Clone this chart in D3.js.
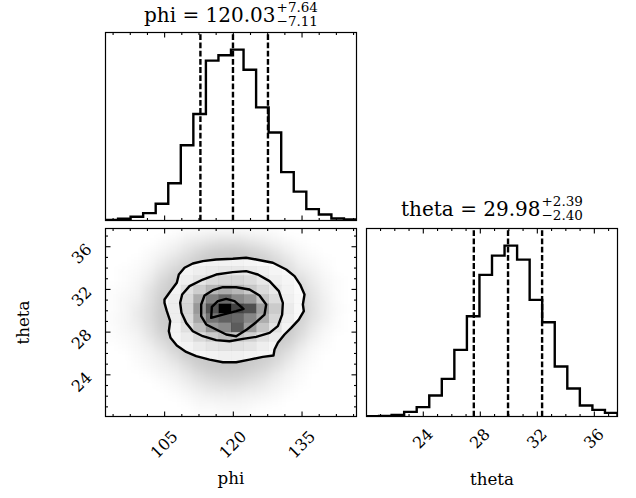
<!DOCTYPE html>
<html><head><meta charset="utf-8">
<script src="https://cdn.jsdelivr.net/npm/d3@7/dist/d3.min.js"></script>
<style>
html,body{margin:0;padding:0;background:#fff;}
svg{display:block;font-family:"DejaVu Serif",serif;}
</style></head><body>
<svg id="chart" width="636" height="498"></svg>
<script>
// ---------------- data ----------------
const phiRange = [92.2, 147.0];
const thetaRange = [20.05, 37.66];
// 1-D histograms, 20 bins each across the ranges above
const phiCounts = [2, 5, 11, 22, 50, 111, 224, 317, 476, 492, 509, 449, 337, 262, 144, 86, 34, 18, 6, 3];
const thetaCounts = [1, 2, 5, 14, 28, 63, 113, 200, 301, 425, 483, 513, 471, 350, 283, 150, 84, 33, 20, 11];
const phiQuantiles = [112.92, 120.03, 127.67];
const thetaQuantiles = [27.58, 29.98, 32.37];
const phiTicks = [105, 120, 135];
const phiMinorTicks = [93.75, 97.5, 101.25, 108.75, 112.5, 116.25, 123.75, 127.5, 131.25, 138.75, 142.5, 146.25];
const thetaTicks = [24, 28, 32, 36];
const thetaMinorTicks = [21, 22, 23, 25, 26, 27, 29, 30, 31, 33, 34, 35, 37];
const phiTitle = ["phi = ", "120.03", "+7.64", "\u22127.11"];
const thetaTitle = ["theta = ", "29.98", "+2.39", "\u22122.40"];
const axisLabels = ["phi", "theta"];

// 2-D binned density (relative counts) for phi bins 4..15 (cols), theta bins 16..5 (rows, top to bottom)
const densityColStart = 4;
const densityRowTop = 16;
const densityCounts = [
  [0, 14, 17, 20, 22, 22, 22, 20, 17, 14, 0, 0],
  [14, 17, 22, 26, 28, 30, 30, 28, 24, 20, 17, 0],
  [14, 20, 26, 32, 38, 40, 40, 37, 30, 24, 20, 14],
  [17, 22, 34, 44, 53, 57, 53, 46, 38, 30, 22, 14],
  [17, 26, 38, 57, 70, 77, 68, 63, 48, 37, 24, 17],
  [17, 26, 40, 63, 82, 100, 86, 83, 62, 45, 28, 17],
  [17, 26, 38, 59, 74, 79, 77, 69, 57, 40, 26, 17],
  [14, 22, 34, 50, 63, 68, 80, 62, 48, 34, 22, 14],
  [14, 20, 28, 38, 45, 50, 48, 43, 35, 28, 20, 14],
  [10, 17, 22, 28, 32, 34, 34, 32, 26, 20, 17, 10],
  [0, 14, 17, 20, 22, 24, 24, 22, 20, 17, 14, 0],
  [0, 0, 14, 14, 17, 17, 17, 17, 14, 14, 0, 0]
];
// scatter-sample shading (darkness %, 20x20 bins, theta rows top to bottom)
const sampleShade = [
  [0,0,0,0,0,1,3,4,5,5,5,4,3,2,0,0,0,0,0,0],
  [0,0,0,0,2,4,7,9,11,12,12,10,8,5,3,1,0,0,0,0],
  [0,0,0,2,4,7,11,15,18,19,19,17,14,10,6,3,1,0,0,0],
  [0,0,1,3,7,11,15,19,20,20,20,20,18,14,10,5,3,1,0,0],
  [0,1,2,5,10,15,19,20,20,20,20,20,20,18,12,8,5,2,0,0],
  [0,1,3,7,14,19,20,20,20,20,20,20,20,20,16,12,7,3,1,0],
  [1,2,4,10,16,20,20,20,20,20,20,20,20,20,19,15,9,4,1,0],
  [1,3,5,11,18,20,20,20,20,20,20,20,20,20,20,17,10,5,1,0],
  [1,3,7,12,19,20,20,20,20,20,20,20,20,20,20,18,11,5,2,0],
  [2,3,7,12,19,20,20,20,20,20,20,20,20,20,20,17,10,5,1,0],
  [1,3,6,11,18,20,20,20,20,20,20,20,20,20,20,15,8,3,1,0],
  [1,2,4,9,15,19,20,20,20,20,20,20,20,20,19,12,6,2,0,0],
  [0,1,3,6,11,16,20,20,20,20,20,20,20,19,15,8,3,1,0,0],
  [0,0,2,4,7,12,18,20,20,20,20,20,19,16,10,5,2,0,0,0],
  [0,0,1,3,5,8,13,18,20,20,20,19,16,12,7,3,1,0,0,0],
  [0,0,0,1,3,5,9,13,16,17,17,15,12,8,4,2,0,0,0,0],
  [0,0,0,0,1,3,6,9,11,12,12,10,8,5,3,1,0,0,0,0],
  [0,0,0,0,0,1,3,5,7,7,7,6,5,3,1,0,0,0,0,0],
  [0,0,0,0,0,0,1,3,3,4,4,3,2,1,0,0,0,0,0,0],
  [0,0,0,0,0,0,0,1,1,2,2,1,0,0,0,0,0,0,0,0]
];
// contour lines [phi, theta]
const contour1 = [[105.08,31.01],[106.54,31.88],[107.77,32.57],[108.21,33.35],[109.45,33.98],[111.27,34.38],[113.45,34.60],[116.36,34.76],[120.0,34.82],[122.91,34.92],[125.1,34.76],[128.74,34.45],[131.65,33.82],[133.47,33.2],[134.7,32.41],[135.65,31.48],[135.29,30.54],[135.5,29.92],[134.41,29.13],[132.74,28.35],[131.28,27.73],[129.83,26.95],[129.1,26.32],[128.88,25.76],[126.55,25.63],[123.64,25.38],[120.73,25.13],[117.82,25.13],[114.91,25.38],[112.0,25.7],[109.81,26.1],[107.77,26.7],[106.39,27.42],[106.03,28.04],[106.32,28.98],[105.59,29.92],[105.08,30.7]];
const contour2 = [[108.5,30.7],[108.94,31.48],[110.54,32.26],[113.45,32.88],[116.36,33.35],[120.0,33.57],[122.91,33.67],[125.46,33.35],[128.01,32.73],[130.05,31.79],[130.92,30.7],[130.77,29.6],[129.83,28.51],[128.01,27.88],[125.1,27.51],[122.19,27.32],[119.27,27.1],[116.36,27.2],[113.45,27.57],[111.27,28.04],[109.81,28.82],[108.79,29.76]];
const contour3 = [[113.09,30.54],[113.82,31.38],[115.64,31.88],[117.82,32.16],[120.73,32.16],[123.64,31.95],[125.82,31.38],[127.28,30.54],[126.92,29.6],[125.1,28.88],[123.06,28.2],[120.73,27.57],[118.55,27.73],[116.36,28.2],[114.18,28.67],[113.09,29.45]];
const contour4 = [[115.27,29.29],[115.42,30.32],[116.73,30.85],[118.55,31.07],[120.37,30.85],[122.33,30.13],[120.73,29.92],[117.82,29.6]];

// ---------------- layout ----------------
const svg = d3.select("#chart");
const P1 = {x: 105.5, y: 32.5, w: 251, h: 188};
const P2 = {x: 105.5, y: 228.5, w: 251, h: 188};
const P3 = {x: 366.5, y: 228.5, w: 251, h: 188};
const nb = 20;
const LW = 2.4;

const xPhi = d3.scaleLinear(phiRange, [P1.x, P1.x + P1.w]);
const yTheta = d3.scaleLinear(thetaRange, [P2.y + P2.h, P2.y]);
const xTheta = d3.scaleLinear(thetaRange, [P3.x, P3.x + P3.w]);
const yH1 = d3.scaleLinear([0, 1.1 * d3.max(phiCounts)], [P1.y + P1.h, P1.y]);
const yH3 = d3.scaleLinear([0, 1.1 * d3.max(thetaCounts)], [P3.y + P3.h, P3.y]);

const phiEdge = k => phiRange[0] + k * (phiRange[1] - phiRange[0]) / nb;
const thetaEdge = j => thetaRange[0] + j * (thetaRange[1] - thetaRange[0]) / nb;

const defs = svg.append("defs");
function clipRect(id, P) {
  defs.append("clipPath").attr("id", id).append("rect")
    .attr("x", P.x).attr("y", P.y).attr("width", P.w).attr("height", P.h);
}
clipRect("c1", P1); clipRect("c2", P2); clipRect("c3", P3);
defs.append("filter").attr("id", "blur").attr("filterUnits", "userSpaceOnUse")
  .attr("x", 0).attr("y", 0).attr("width", 636).attr("height", 498)
  .append("feGaussianBlur").attr("stdDeviation", 4);

// ---------------- histograms ----------------
function stepHist(P, counts, edgeFn, xs, ys, clip, quants) {
  const g = svg.append("g").attr("clip-path", `url(#${clip})`);
  const pts = [[edgeFn(0), 0]];
  counts.forEach((c, i) => { pts.push([edgeFn(i), c]); pts.push([edgeFn(i + 1), c]); });
  pts.push([edgeFn(nb), 0]);
  g.append("path").attr("d", d3.line().x(d => xs(d[0])).y(d => ys(d[1]))(pts))
    .attr("fill", "none").attr("stroke", "#000").attr("stroke-width", LW)
    .attr("stroke-linejoin", "miter");
  g.selectAll("line.q").data(quants).join("line")
    .attr("x1", d => xs(d)).attr("x2", d => xs(d))
    .attr("y1", P.y + P.h).attr("y2", P.y)
    .attr("stroke", "#000").attr("stroke-width", LW).attr("stroke-dasharray", "5.8,2.4");
}
stepHist(P1, phiCounts, phiEdge, xPhi, yH1, "c1", phiQuantiles);
stepHist(P3, thetaCounts, thetaEdge, xTheta, yH3, "c3", thetaQuantiles);

// ---------------- 2-D panel ----------------
const g2 = svg.append("g").attr("clip-path", "url(#c2)");
const haze = g2.append("g").attr("filter", "url(#blur)");
sampleShade.forEach((row, r) => {
  const j = nb - 1 - r;
  row.forEach((v, k) => {
    if (!v) return;
    haze.append("rect")
      .attr("x", xPhi(phiEdge(k))).attr("y", yTheta(thetaEdge(j + 1)))
      .attr("width", xPhi(phiEdge(k + 1)) - xPhi(phiEdge(k)) + 0.5)
      .attr("height", yTheta(thetaEdge(j)) - yTheta(thetaEdge(j + 1)) + 0.5)
      .attr("fill", "#000").attr("fill-opacity", v / 100);
  });
});
const cline = d3.line().x(d => xPhi(d[0])).y(d => yTheta(d[1])).curve(d3.curveLinearClosed);
defs.append("clipPath").attr("id", "outerC").append("path").attr("d", cline(contour1));
g2.append("path").attr("d", cline(contour1)).attr("fill", "#fff");
const dens = g2.append("g").attr("clip-path", "url(#outerC)");
const dmax = d3.max(densityCounts.flat());
const tOf = d3.scaleLinear([0, dmax], [1, 0]);
densityCounts.forEach((row, r) => {
  const j = densityRowTop - r;
  row.forEach((v, c) => {
    const k = densityColStart + c;
    const t = tOf(v);
    const gv = Math.round(255 * t);
    dens.append("rect")
      .attr("x", xPhi(phiEdge(k))).attr("y", yTheta(thetaEdge(j + 1)))
      .attr("width", xPhi(phiEdge(k + 1)) - xPhi(phiEdge(k)) + 0.3)
      .attr("height", yTheta(thetaEdge(j)) - yTheta(thetaEdge(j + 1)) + 0.3)
      .attr("fill", `rgb(${gv},${gv},${gv})`).attr("fill-opacity", 1 - t);
  });
});
[contour1, contour2, contour3, contour4].forEach(c => {
  g2.append("path").attr("d", cline(c)).attr("fill", "none")
    .attr("stroke", "#000").attr("stroke-width", LW).attr("stroke-linejoin", "round");
});

// ---------------- frames and ticks ----------------
function ticksX(P, scale, majors, minors) {
  [[d3.axisBottom, P.y + P.h], [d3.axisTop, P.y]].forEach(([ax, y]) => {
    const a = svg.append("g").attr("transform", `translate(0,${y})`);
    a.call(ax(scale).tickValues(majors).tickSize(-5).tickFormat(""));
    a.call(g => g.select(".domain").remove());
    const b = svg.append("g").attr("transform", `translate(0,${y})`);
    b.call(ax(scale).tickValues(minors).tickSize(-2.5).tickFormat(""));
    b.call(g => g.select(".domain").remove());
  });
}
function ticksY(P, scale, majors, minors) {
  [[d3.axisLeft, P.x], [d3.axisRight, P.x + P.w]].forEach(([ax, x]) => {
    const a = svg.append("g").attr("transform", `translate(${x},0)`);
    a.call(ax(scale).tickValues(majors).tickSize(-5).tickFormat(""));
    a.call(g => g.select(".domain").remove());
    const b = svg.append("g").attr("transform", `translate(${x},0)`);
    b.call(ax(scale).tickValues(minors).tickSize(-2.5).tickFormat(""));
    b.call(g => g.select(".domain").remove());
  });
}
ticksX(P1, xPhi, phiTicks, phiMinorTicks);
ticksX(P2, xPhi, phiTicks, phiMinorTicks);
ticksY(P2, yTheta, thetaTicks, thetaMinorTicks);
ticksX(P3, xTheta, thetaTicks, thetaMinorTicks);
svg.selectAll(".tick line").attr("stroke", "#000").attr("stroke-width", 1.1);

[P1, P2, P3].forEach(P => {
  svg.append("rect").attr("x", P.x).attr("y", P.y).attr("width", P.w).attr("height", P.h)
    .attr("fill", "none").attr("stroke", "#000").attr("stroke-width", 1.2);
});

// ---------------- tick labels ----------------
function xLabels(P, scale, ticks) {
  svg.append("g").selectAll("text").data(ticks).join("text")
    .attr("transform", d => `translate(${scale(d)},${P.y + P.h + 10 + 6 * String(d).length}) rotate(-45)`)
    .attr("text-anchor", "middle").attr("dominant-baseline", "central")
    .attr("font-size", 16).attr("fill", "#000").text(d => d);
}
xLabels(P2, xPhi, phiTicks);
xLabels(P3, xTheta, thetaTicks);
svg.append("g").selectAll("text").data(thetaTicks).join("text")
  .attr("transform", d => `translate(${P2.x - 24},${yTheta(d) + 7.5}) rotate(-45)`)
  .attr("text-anchor", "middle").attr("dominant-baseline", "central")
  .attr("font-size", 16).attr("fill", "#000").text(d => d);

// axis labels
svg.append("text").attr("x", P2.x + P2.w / 2).attr("y", 484).attr("text-anchor", "middle")
  .attr("font-size", 16.7).text(axisLabels[0]);
svg.append("text").attr("x", P3.x + P3.w / 2).attr("y", 485).attr("text-anchor", "middle")
  .attr("font-size", 16.7).text(axisLabels[1]);
svg.append("text").attr("transform", `translate(28.5,${P2.y + P2.h / 2}) rotate(-90)`)
  .attr("text-anchor", "middle").attr("font-size", 16.7).text(axisLabels[1]);

// titles
function title(P, parts, baseline) {
  const g = svg.append("g");
  const main = g.append("text").attr("y", baseline).attr("font-size", 20).text(parts[0] + parts[1]);
  const sup = g.append("text").attr("y", baseline - 10.5).attr("font-size", 13.5).text(parts[2]);
  const sub = g.append("text").attr("y", baseline + 4).attr("font-size", 13.5).text(parts[3]);
  const mw = main.node().getComputedTextLength();
  const sw = Math.max(sup.node().getComputedTextLength(), sub.node().getComputedTextLength());
  const x0 = P.x + P.w / 2 - (mw + sw + 1) / 2;
  main.attr("x", x0);
  sup.attr("x", x0 + mw + 1);
  sub.attr("x", x0 + mw + 1);
}
title(P1, phiTitle, 22);
title(P3, thetaTitle, 216);
</script>
</body></html>
